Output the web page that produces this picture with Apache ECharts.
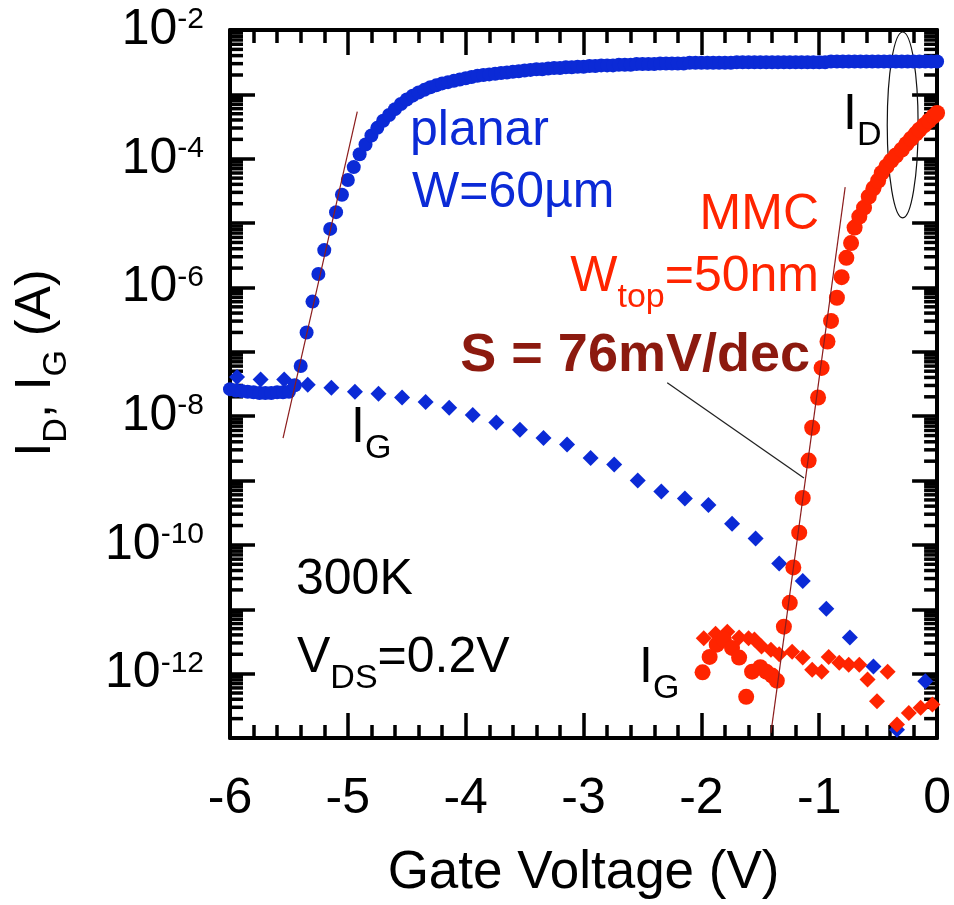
<!DOCTYPE html>
<html>
<head>
<meta charset="utf-8">
<title>Planar vs MMC transfer curves</title>
<script src="https://cdn.jsdelivr.net/npm/echarts@6/dist/echarts.min.js"></script>
<style>
  html, body { margin: 0; padding: 0; background: #fff; }
  #chart { width: 954px; height: 905px; }
</style>
</head>
<body>
<div id="chart"></div>
<script>
// all currents are stored as log10(I / A), voltages in V

// planar W=60um, drain current (circles)
var planarIdV = [
  -6.00, -5.95, -5.90, -5.85, -5.80, -5.75, -5.70, -5.65, -5.60, -5.55,
  -5.50, -5.45, -5.40, -5.35, -5.30, -5.25, -5.20, -5.15, -5.10, -5.05,
  -5.00, -4.95, -4.90, -4.85, -4.80, -4.75, -4.70, -4.65, -4.60, -4.55,
  -4.50, -4.45, -4.40, -4.35, -4.30, -4.25, -4.20, -4.15, -4.10, -4.05,
  -4.00, -3.95, -3.90, -3.85, -3.80, -3.75, -3.70, -3.65, -3.60, -3.55,
  -3.50, -3.45, -3.40, -3.35, -3.30, -3.25, -3.20, -3.15, -3.10, -3.05,
  -3.00, -2.95, -2.90, -2.85, -2.80, -2.75, -2.70, -2.65, -2.60, -2.55,
  -2.50, -2.45, -2.40, -2.35, -2.30, -2.25, -2.20, -2.15, -2.10, -2.05,
  -2.00, -1.95, -1.90, -1.85, -1.80, -1.75, -1.70, -1.65, -1.60, -1.55,
  -1.50, -1.45, -1.40, -1.35, -1.30, -1.25, -1.20, -1.15, -1.10, -1.05,
  -1.00, -0.95, -0.90, -0.85, -0.80, -0.75, -0.70, -0.65, -0.60, -0.55,
  -0.50, -0.45, -0.40, -0.35, -0.30, -0.25, -0.20, -0.15, -0.10, -0.05,
  0.00
];
var planarIdLog = [
  -7.58, -7.60, -7.61, -7.62, -7.63, -7.64, -7.64, -7.64, -7.63, -7.63,
  -7.62, -7.52, -7.22, -6.70, -6.22, -5.79, -5.42, -5.09, -4.83, -4.56,
  -4.33, -4.13, -3.93, -3.78, -3.64, -3.52, -3.41, -3.32, -3.23, -3.15,
  -3.08, -3.02, -2.97, -2.93, -2.89, -2.86, -2.83, -2.81, -2.79, -2.77,
  -2.75, -2.73, -2.71, -2.70, -2.69, -2.68, -2.67, -2.66, -2.65, -2.64,
  -2.63, -2.62, -2.61, -2.61, -2.60, -2.59, -2.59, -2.58, -2.58, -2.57,
  -2.57, -2.56, -2.56, -2.55, -2.55, -2.55, -2.54, -2.54, -2.54, -2.53,
  -2.53, -2.53, -2.53, -2.52, -2.52, -2.52, -2.52, -2.52, -2.51, -2.51,
  -2.51, -2.51, -2.51, -2.51, -2.51, -2.51, -2.50, -2.50, -2.50, -2.50,
  -2.50, -2.50, -2.50, -2.50, -2.50, -2.50, -2.50, -2.50, -2.50, -2.50,
  -2.50, -2.50, -2.49, -2.49, -2.49, -2.49, -2.49, -2.49, -2.49, -2.49,
  -2.49, -2.49, -2.49, -2.49, -2.49, -2.49, -2.49, -2.49, -2.49, -2.49,
  -2.49
];

// planar gate current (diamonds)
var planarIgV = [
  -5.94, -5.74, -5.54, -5.34, -5.14, -4.94, -4.74, -4.54, -4.34, -4.14,
  -3.94, -3.74, -3.54, -3.34, -3.14, -2.94, -2.74, -2.54, -2.34, -2.14,
  -1.94, -1.74, -1.54, -1.34, -1.14, -0.94, -0.74, -0.54, -0.34, -0.10
];
var planarIgLog = [
  -7.39, -7.43, -7.43, -7.51, -7.56, -7.62, -7.65, -7.71, -7.78, -7.87,
  -7.98, -8.10, -8.21, -8.34, -8.44, -8.65, -8.75, -9.00, -9.17, -9.28,
  -9.38, -9.67, -9.90, -10.29, -10.56, -10.99, -11.44, -11.89, -12.87, -12.12
];

// MMC Wtop=50nm, drain current (circles)
var mmcIdV = [
  -1.99, -1.93, -1.87, -1.81, -1.74, -1.68, -1.62, -1.57, -1.50, -1.45,
  -1.40, -1.36, -1.30, -1.25, -1.22, -1.17, -1.14, -1.09, -1.06, -1.01,
  -0.98, -0.93, -0.90, -0.85, -0.81, -0.77, -0.73, -0.70, -0.66, -0.62,
  -0.58, -0.54, -0.50, -0.47, -0.43, -0.39, -0.35, -0.30, -0.26, -0.22,
  -0.18, -0.15, -0.11, -0.07, -0.03, 0.00
];
var mmcIdLog = [
  -11.98, -11.74, -11.55, -11.47, -11.60, -11.75, -12.36, -11.97, -11.90, -11.97,
  -12.03, -12.11, -11.27, -10.90, -10.35, -9.81, -9.27, -8.69, -8.18, -7.71,
  -7.25, -6.84, -6.52, -6.16, -5.84, -5.54, -5.31, -5.07, -4.90, -4.76,
  -4.59, -4.46, -4.34, -4.22, -4.12, -4.03, -3.95, -3.86, -3.77, -3.69,
  -3.61, -3.55, -3.48, -3.41, -3.34, -3.29
];

// MMC gate current (diamonds)
var mmcIgV = [
  -1.98, -1.88, -1.78, -1.68, -1.60, -1.55, -1.49, -1.41, -1.34, -1.23,
  -1.14, -1.06, -0.98, -0.92, -0.83, -0.75, -0.66, -0.59, -0.51, -0.42,
  -0.34, -0.24, -0.14, -0.04
];
var mmcIgLog = [
  -11.45, -11.38, -11.35, -11.44, -11.45, -11.47, -11.58, -11.63, -11.70, -11.66,
  -11.75, -11.94, -11.97, -11.74, -11.83, -11.86, -11.86, -12.09, -12.43, -11.97,
  -12.79, -12.61, -12.53, -12.48
];

// subthreshold slope fits and the pointer to the MMC fit
var planarFitV = [-5.55, -4.92];
var planarFitLog = [-8.34, -3.27];
var mmcFitV = [-1.41, -0.78];
var mmcFitLog = [-12.92, -4.44];
var pointerV = [-2.29, -1.13];
var pointerLog = [-7.48, -8.96];

// ellipse around the two I_D curves: centre V, centre log, half width V, half height decades
var idEllipse = [-0.292, -3.475, 0.131, 1.444];

// axes
var xMin = -6, xMax = 0;
var decades = [-13, -12, -11, -10, -9, -8, -7, -6, -5, -4, -3, -2];
var minorFactors = [2, 3, 4, 5, 6, 7, 8, 9];

var FONT = '"Liberation Sans", Arial, Helvetica, sans-serif';
var BLUE = '#0b2ad6';
var RED = '#ff2400';
var FIT = '#8b1c1c';
var BROWN = '#8c1a0f';

function pairs(xs, ys) {
  return xs.map(function (x, i) { return [x, ys[i]]; });
}

// log minor ticks sit at d + log10(k)
var minorTickData = [];
decades.slice(0, -1).forEach(function (d) {
  minorFactors.forEach(function (k) { minorTickData.push([xMin, d + Math.log10(k)]); });
});

var chart = echarts.init(document.getElementById('chart'));

var tickStyle = { color: '#000', width: 3.5 };
var frameStyle = { color: '#000', width: 4 };

// main text hangs from the top of the line, subscripts sit on its bottom
function textRich(size, subSize, weight) {
  return {
    m: { fontFamily: FONT, fontSize: size, lineHeight: size, verticalAlign: 'top', fontWeight: weight || 'normal' },
    s: { fontFamily: FONT, fontSize: subSize, lineHeight: Math.round(size * 1.25), verticalAlign: 'bottom', fontWeight: weight || 'normal' }
  };
}

function note(x, y, text, fill, align, size, bold) {
  return {
    type: 'text',
    x: x,
    y: y,
    silent: true,
    style: {
      text: text,
      rich: textRich(size, 34, bold ? 'bold' : 'normal'),
      fill: fill,
      align: align, textAlign: align,
      verticalAlign: 'top', textVerticalAlign: 'top'
    }
  };
}

var option = {
  animation: false,
  backgroundColor: '#fff',
  grid: { left: 230, right: 16, top: 30, bottom: 167 },
  xAxis: [
    {
      type: 'value', min: xMin, max: xMax, interval: 1, position: 'bottom',
      name: 'Gate Voltage (V)', nameLocation: 'middle', nameGap: 109,
      nameTextStyle: { fontFamily: FONT, fontSize: 53, color: '#000', lineHeight: 53 },
      axisLine: { onZero: false, lineStyle: frameStyle },
      axisTick: { inside: true, length: 25, lineStyle: tickStyle },
      minorTick: { show: true, splitNumber: 5, length: 13, lineStyle: tickStyle },
      axisLabel: { margin: 36, fontFamily: FONT, fontSize: 50, lineHeight: 50, color: '#000', hideOverlap: false },
      splitLine: { show: false }
    },
    {
      type: 'value', min: xMin, max: xMax, interval: 1, position: 'top',
      axisLine: { onZero: false, lineStyle: frameStyle },
      axisTick: { inside: true, length: 25, lineStyle: tickStyle },
      minorTick: { show: true, splitNumber: 5, length: 13, lineStyle: tickStyle },
      axisLabel: { show: false },
      splitLine: { show: false }
    }
  ],
  yAxis: [
    {
      type: 'value', min: -13, max: -2, interval: 1, position: 'left',
      axisLine: { onZero: false, lineStyle: frameStyle },
      axisTick: { inside: true, length: 25, lineStyle: tickStyle },
      axisLabel: {
        margin: 26, color: '#000', hideOverlap: false,
        formatter: function (v) { return v % 2 === 0 ? '{b|10}{s|' + v + '}' : ''; },
        rich: {
          b: { fontFamily: FONT, fontSize: 50, lineHeight: 50, verticalAlign: 'top', color: '#000' },
          s: { fontFamily: FONT, fontSize: 30, lineHeight: 34, verticalAlign: 'top', color: '#000' }
        }
      },
      splitLine: { show: false }
    },
    {
      type: 'value', min: -13, max: -2, interval: 1, position: 'right',
      axisLine: { onZero: false, lineStyle: frameStyle },
      axisTick: { inside: true, length: 25, lineStyle: tickStyle },
      axisLabel: { show: false },
      splitLine: { show: false }
    }
  ],
  series: [
    {
      name: 'planar I_D', type: 'scatter', symbol: 'circle', symbolSize: 14,
      itemStyle: { color: BLUE, opacity: 1 }, data: pairs(planarIdV, planarIdLog), silent: true
    },
    {
      name: 'planar I_G', type: 'scatter', symbol: 'diamond', symbolSize: 16,
      itemStyle: { color: BLUE, opacity: 1 }, data: pairs(planarIgV, planarIgLog), silent: true
    },
    {
      name: 'MMC I_G', type: 'scatter', symbol: 'diamond', symbolSize: 16,
      itemStyle: { color: RED, opacity: 1 }, data: pairs(mmcIgV, mmcIgLog), silent: true
    },
    {
      name: 'MMC I_D', type: 'scatter', symbol: 'circle', symbolSize: 16,
      itemStyle: { color: RED, opacity: 1 }, data: pairs(mmcIdV, mmcIdLog), silent: true
    },
    {
      name: 'planar fit', type: 'line', symbol: 'none', silent: true,
      lineStyle: { color: FIT, width: 1.2 }, data: pairs(planarFitV, planarFitLog)
    },
    {
      name: 'MMC fit', type: 'line', symbol: 'none', silent: true,
      lineStyle: { color: FIT, width: 1.2 }, data: pairs(mmcFitV, mmcFitLog)
    },
    {
      name: 'pointer', type: 'line', symbol: 'none', silent: true,
      lineStyle: { color: '#222', width: 1.3 }, data: pairs(pointerV, pointerLog)
    },
    {
      name: 'I_D ellipse', type: 'custom', silent: true, clip: false,
      data: [idEllipse],
      renderItem: function (params, api) {
        var c = api.coord([api.value(0), api.value(1)]);
        var r = api.size([api.value(2), api.value(3)]);
        var rx = r[0], ry = r[1];
        var d = 'M' + (c[0] - rx) + ' ' + c[1] +
          ' A' + rx + ' ' + ry + ' 0 1 0 ' + (c[0] + rx) + ' ' + c[1] +
          ' A' + rx + ' ' + ry + ' 0 1 0 ' + (c[0] - rx) + ' ' + c[1] + ' Z';
        return { type: 'path', shape: { pathData: d }, style: { fill: null, stroke: '#111', lineWidth: 1.2 } };
      }
    },
    {
      name: 'log minor ticks', type: 'custom', silent: true, clip: false,
      data: minorTickData,
      renderItem: function (params, api) {
        var yv = api.value(1);
        var pl = api.coord([xMin, yv]);
        var pr = api.coord([xMax, yv]);
        var st = { stroke: '#000', lineWidth: 3.5 };
        return {
          type: 'group',
          children: [
            { type: 'line', shape: { x1: pl[0], y1: pl[1], x2: pl[0] + 13, y2: pl[1] }, style: st },
            { type: 'line', shape: { x1: pr[0] - 13, y1: pr[1], x2: pr[0], y2: pr[1] }, style: st }
          ]
        };
      }
    }
  ],
  graphic: [
    {
      type: 'text', x: 11, y: 363, rotation: Math.PI / 2, silent: true,
      style: {
        text: '{m|I}{s|D}{m|, I}{s|G}{m| (A)}',
        rich: textRich(50, 34),
        fill: '#000',
        align: 'center', textAlign: 'center',
        verticalAlign: 'top', textVerticalAlign: 'top'
      }
    },
    note(410, 106, '{m|planar}', BLUE, 'left', 50),
    note(412, 168, '{m|W=60\u00b5m}', BLUE, 'left', 50),
    note(819, 190, '{m|MMC}', RED, 'right', 50),
    note(819, 252, '{m|W}{s|top}{m|=50nm}', RED, 'right', 50),
    note(810, 329, '{m|S = 76mV/dec}', BROWN, 'right', 54, true),
    note(351, 403, '{m|I}{s|G}', '#000', 'left', 50),
    note(639, 643, '{m|I}{s|G}', '#000', 'left', 50),
    note(843, 90, '{m|I}{s|D}', '#000', 'left', 50),
    note(296, 555, '{m|300K}', '#000', 'left', 50),
    note(297, 633, '{m|V}{s|DS}{m|=0.2V}', '#000', 'left', 50)
  ]
};

chart.setOption(option);
</script>
</body>
</html>
